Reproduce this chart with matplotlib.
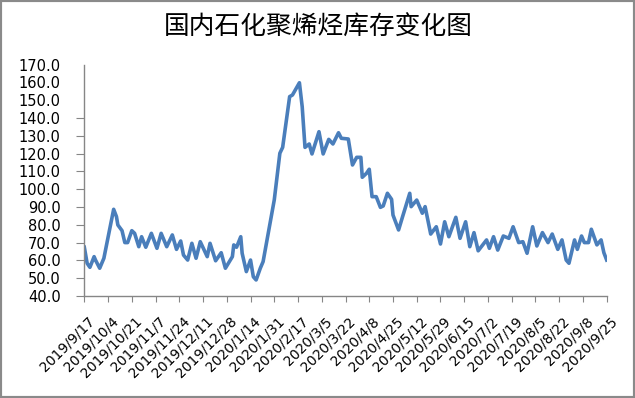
import matplotlib
matplotlib.use('Agg')
import matplotlib.pyplot as plt
import matplotlib.transforms as mtransforms
import pandas as pd
from matplotlib.patches import Rectangle

#  --------------- DATA ---------------  #
start_date = '2019/9/17'
# day offsets from start_date at each visible turn of the line
days = [0, 2, 4, 7, 8, 11, 14, 21, 23, 24,
        27, 29, 31, 34, 36, 39, 41, 44, 48, 52,
        55, 59, 63, 66, 69, 71, 74, 77, 80, 83,
        88, 90, 94, 98, 101, 106, 107, 109, 112, 113,
        116, 119, 121, 123, 126, 128, 136, 140, 142, 147,
        149, 154, 156, 158, 161, 163, 168, 171, 175, 178,
        182, 184, 189, 192, 195, 198, 199, 202, 204, 206,
        209, 212, 214, 217, 220, 221, 225, 228, 233, 234,
        238, 242, 244, 248, 252, 255, 258, 261, 266, 269,
        273, 276, 279, 282, 288, 290, 293, 296, 300, 304,
        307, 311, 314, 317, 321, 324, 328, 332, 335, 339,
        342, 345, 347, 351, 353, 356, 358, 361, 363, 367,
        370, 372, 374]
inventory = [67.4, 58.4, 56.1, 62.1, 60.2, 55.6, 61.2, 88.7, 84.6, 79.9,
             76.7, 70.0, 70.0, 76.7, 75.2, 67.7, 73.3, 67.4, 75.2, 66.8,
             75.2, 67.7, 74.3, 66.2, 70.9, 63.0, 60.2, 69.6, 61.2, 70.5,
             62.1, 69.6, 59.8, 64.3, 55.6, 62.1, 68.7, 67.4, 73.3, 64.0,
             53.7, 60.2, 50.8, 49.0, 55.6, 59.3, 94.0, 120.2, 123.5, 152.0,
             152.9, 159.8, 146.3, 123.5, 125.4, 119.8, 132.3, 119.8, 128.0, 125.4,
             131.7, 128.6, 128.2, 113.6, 117.9, 117.9, 106.7, 108.9, 111.2, 95.8,
             95.8, 89.8, 90.6, 97.7, 94.3, 85.5, 77.1, 84.9, 97.7, 90.2,
             93.9, 86.5, 90.2, 74.8, 78.9, 69.2, 81.7, 73.3, 84.2, 72.4,
             81.7, 67.7, 75.6, 65.4, 71.5, 66.8, 73.3, 65.8, 73.7, 72.4,
             78.9, 70.0, 70.5, 64.0, 78.9, 68.1, 75.6, 70.0, 74.8, 66.2,
             71.5, 60.2, 58.4, 71.5, 66.2, 73.7, 70.0, 70.0, 77.5, 68.7,
             71.5, 64.3, 60.2]

tick_labels = ['2019/9/17', '2019/10/4', '2019/10/21', '2019/11/7', '2019/11/24',
               '2019/12/11', '2019/12/28', '2020/1/14', '2020/1/31', '2020/2/17',
               '2020/3/5', '2020/3/22', '2020/4/8', '2020/4/25', '2020/5/12',
               '2020/5/29', '2020/6/15', '2020/7/2', '2020/7/19', '2020/8/5',
               '2020/8/22', '2020/9/8', '2020/9/25']
y_ticks = [40, 50, 60, 70, 80, 90, 100, 110, 120, 130, 140, 150, 160, 170]

title = '国内石化聚烯烃库存变化图'

#  --------------- PLOT ---------------  #
dates = pd.Timestamp(pd.to_datetime(start_date, format='%Y/%m/%d')) + pd.to_timedelta(days, unit='D')
tick_dates = pd.to_datetime(tick_labels, format='%Y/%m/%d')

fig = plt.figure(figsize=(6.35, 3.98), dpi=100)
ax = fig.add_axes([0.1328, 0.2563, 0.8226, 0.5814])

ax.plot(dates, inventory, color='#4a7ebb', lw=2.6, solid_joinstyle='round')

ax.set_xlim(tick_dates[0], tick_dates[-1])
ax.set_ylim(40, 170)

axis_grey = '#868686'
for side in ['top', 'right']:
    ax.spines[side].set_visible(False)
for side in ['left', 'bottom']:
    ax.spines[side].set_color(axis_grey)
    ax.spines[side].set_linewidth(1.0)

ax.set_yticks(y_ticks)
ax.set_yticklabels([f'{v:.1f}' for v in y_ticks], fontsize=10.5, family='DejaVu Sans')
ax.tick_params(axis='y', length=5.5, width=0.8, color=axis_grey, pad=11.5)
# the top three ticks have no tick mark in the original
for t in ax.yaxis.get_major_ticks()[-3:]:
    t.tick1line.set_visible(False)

ax.set_xticks(tick_dates)
ax.set_xticklabels(tick_labels, rotation=45, ha='right', va='top',
                   rotation_mode='anchor', fontsize=10, family='DejaVu Sans')
ax.tick_params(axis='x', length=4, width=0.8, color=axis_grey, pad=9)
shift = mtransforms.ScaledTranslation(3 / 100, 0, fig.dpi_scale_trans)
for lbl in ax.get_xticklabels():
    lbl.set_transform(lbl.get_transform() + shift)

fig.text(0.502, 1 - 28 / 398, title, ha='center', va='center',
         fontsize=18.5, fontweight='medium', family=['Noto Sans CJK SC', 'DejaVu Sans'])

# grey chart border
fig.add_artist(Rectangle((0, 0), 1, 1, transform=fig.transFigure, fill=False,
                         edgecolor='#8a8a8a', lw=3))

fig.savefig('out.png', dpi=100)
